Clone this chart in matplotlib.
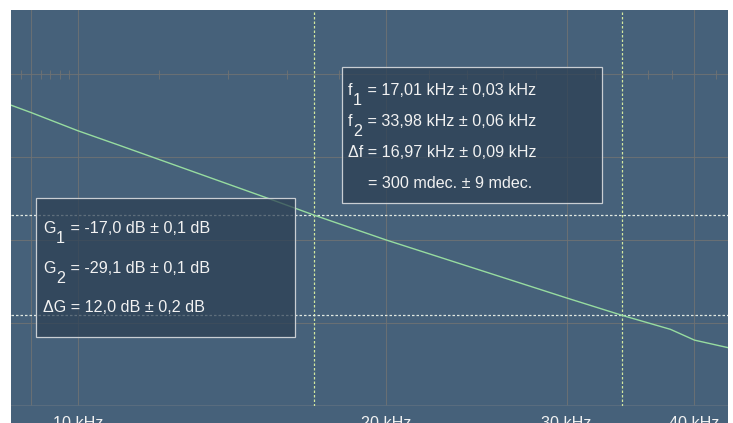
import matplotlib
matplotlib.use("Agg")
import matplotlib.pyplot as plt
from matplotlib.patches import Rectangle
from matplotlib.ticker import NullFormatter

plt.rcParams['font.family'] = ['Liberation Sans', 'DejaVu Sans']

# measured gain response
freq_khz = [8.60, 9.0, 10.0, 11.0, 15.4, 17.01, 20.0, 30.0, 33.98, 37.9, 40.0, 43.1]
gain_db = [-3.7, -4.6, -6.8, -8.6, -15.05, -17.0, -20.0, -27.0, -29.1, -30.8, -32.1, -33.0]

# cursor readings
f1, f2 = 17.01, 33.98
g1, g2 = -17.0, -29.1

freq_ticks = [10, 20, 30, 40]
freq_labels = ['10 kHz', '20 kHz', '30 kHz', '40 kHz']
freq_grid_minor = [9]
db_grid = [-40, -30, -20, -10, 0]
# small marks along the 0 dB line
zero_line_marks = [8.8, 9.2, 9.4, 9.6, 9.8, 12, 14, 16, 18, 22, 24, 26, 28,
                   32, 34, 36, 38, 42]

freq_lines = [('f', '1', ' = 17,01 kHz ± 0,03 kHz'),
              ('f', '2', ' = 33,98 kHz ± 0,06 kHz'),
              ('Δf = 16,97 kHz ± 0,09 kHz', None, None)]
freq_extra = '= 300 mdec. ± 9 mdec.'
gain_lines = [('G', '1', ' = -17,0 dB ± 0,1 dB'),
              ('G', '2', ' = -29,1 dB ± 0,1 dB'),
              ('ΔG = 12,0 dB ± 0,2 dB', None, None)]

BG = '#46617a'
BOX = '#2c3f53'
GRID = '#6f7274'
TXT = '#f2f2f2'
FS = 11.6

W, H = 733, 423
fig = plt.figure(figsize=(W / 100, H / 100), dpi=100)
fig.patch.set_facecolor('white')

# panel including the label strip under the plot
fig.patches.append(Rectangle((11 / W, 0), 717 / W, 413 / H, transform=fig.transFigure,
                             facecolor=BG, edgecolor='none', zorder=-1))

ax = fig.add_axes([11 / W, 17 / H, 717 / W, 396 / H])
ax.set_facecolor(BG)
ax.set_xscale('log')
ax.set_xlim(8.604, 43.13)
ax.set_ylim(-40.06, 7.79)

ax.set_xticks(freq_ticks, labels=freq_labels)
ax.set_xticks(freq_grid_minor, minor=True)
ax.xaxis.set_minor_formatter(NullFormatter())
ax.set_yticks(db_grid)
ax.tick_params(axis='both', which='both', length=0, labelleft=False)
ax.tick_params(axis='x', pad=7.5, labelsize=FS, labelcolor=TXT)
ax.grid(which='both', color=GRID, lw=0.8, alpha=0.85)
for s in ax.spines.values():
    s.set_visible(False)
ax.axhline(-40.06, color='#5d6f80', lw=1.2)

ax.vlines(zero_line_marks, -0.5, 0.5, color=GRID, lw=0.8, alpha=0.85)

ax.plot(freq_khz, gain_db, color='#97dca0', lw=1.0, zorder=3)

for f in (f1, f2):
    ax.axvline(f, color='#d3e8a0', lw=0.9, ls=(0, (2, 1.6)), zorder=2)
for g in (g1, g2):
    ax.axhline(g, color='#e2e9e2', lw=0.9, ls=(0, (2, 1.6)), zorder=2)


def px(x, y):
    return (x - 11) / 717, (406 - y) / 396


def add_box(x0, y0, x1, y1):
    a = px(x0, y1)
    b = px(x1, y0)
    ax.add_patch(Rectangle(a, b[0] - a[0], b[1] - a[1], transform=ax.transAxes,
                           facecolor=BOX, alpha=0.72, edgecolor='none', zorder=4))
    ax.add_patch(Rectangle(a, b[0] - a[0], b[1] - a[1], transform=ax.transAxes,
                           facecolor='none', edgecolor='#c9ced3', lw=0.9, zorder=5))


def add_line(x, y, head, sub, rest):
    t0 = ax.text(*px(x, y), head, transform=ax.transAxes, fontsize=FS, color=TXT,
                 va='baseline', ha='left', zorder=6)
    if sub is None:
        return
    t1 = ax.annotate(sub, xy=(1, 0), xycoords=t0, xytext=(0.4, -7.2),
                     textcoords='offset points', fontsize=FS, color=TXT,
                     va='bottom', ha='left', zorder=6)
    ax.annotate(rest, xy=(1, 0), xycoords=(t1, t0), xytext=(0.8, 0),
                textcoords='offset points', fontsize=FS, color=TXT,
                va='bottom', ha='left', zorder=6)


add_box(342, 67, 602, 203)
for (head, sub, rest), y in zip(freq_lines, [95, 126, 157]):
    add_line(348, y, head, sub, rest)
add_line(368, 188, freq_extra, None, None)

add_box(36, 198, 295, 337)
for (head, sub, rest), y in zip(gain_lines, [233, 272.5, 311.5]):
    add_line(43, y, head, sub, rest)

fig.savefig('out.png', dpi=100)
